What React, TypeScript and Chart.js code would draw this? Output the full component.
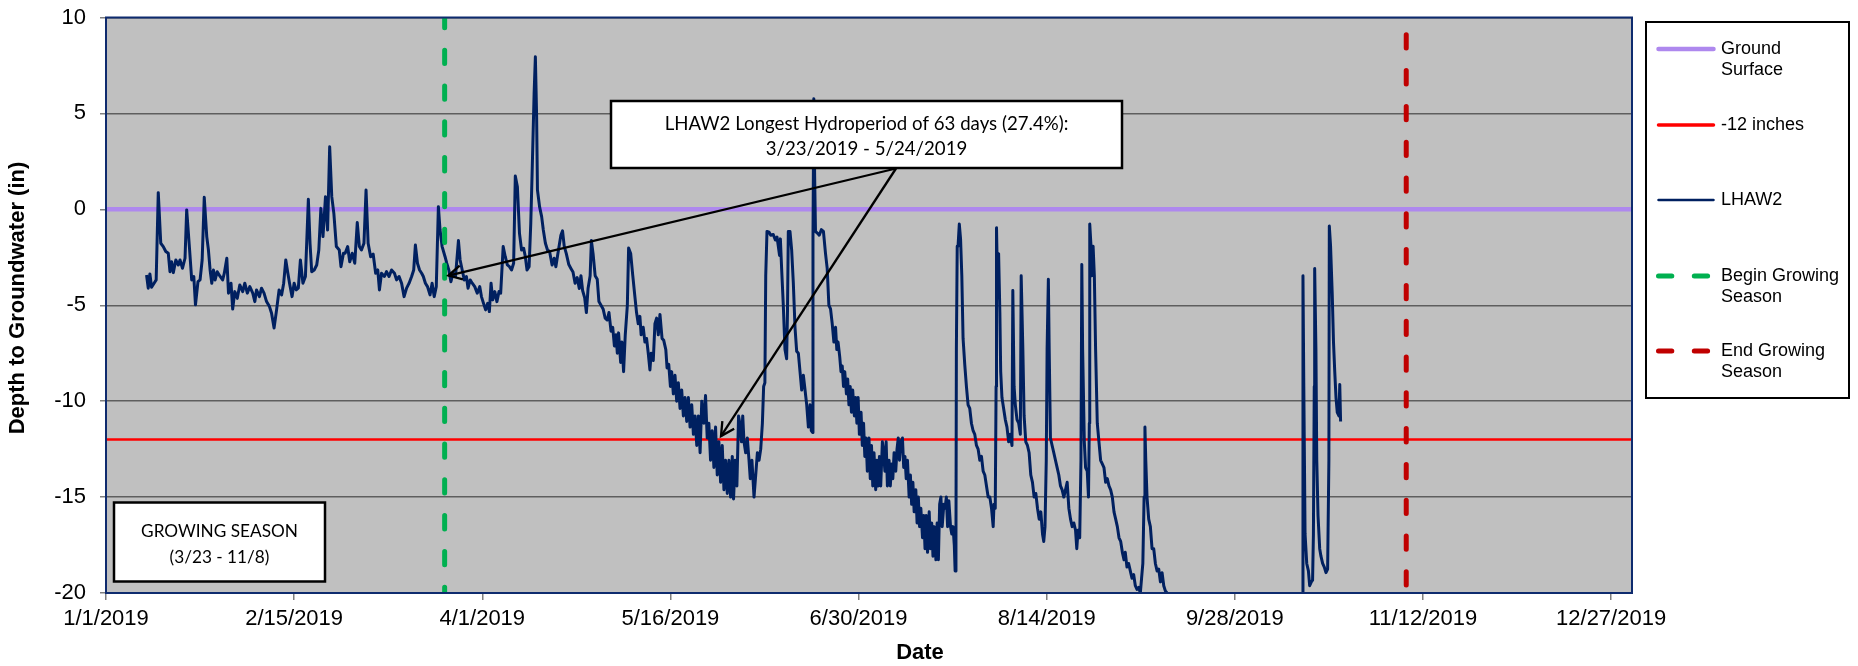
import React, { useEffect, useRef } from 'react';
import { Chart, registerables } from 'chart.js';

Chart.register(...registerables);

// ---------- DATA ----------
// x values are days since 1/1/2019, y values are depth to groundwater (in)
const xTickDays = [0, 45, 90, 135, 180, 225, 270, 315, 360];
const xTickLabels = ['1/1/2019', '2/15/2019', '4/1/2019', '5/16/2019', '6/30/2019', '8/14/2019', '9/28/2019', '11/12/2019', '12/27/2019'];
const yTickValues = [10, 5, 0, -5, -10, -15, -20];

const groundSurfaceDays = [0, 365];
const groundSurfaceDepth = [0, 0];
const minus12Days = [0, 365];
const minus12Depth = [-12, -12];
const beginGrowingDay = 81; // 3/23/2019
const endGrowingDay = 311; // 11/8/2019
const seasonLineDepth = [10, -20];

// arrow targets of the hydroperiod callout (day, depth)
const arrowTargetDays = [81.9, 147.1];
const arrowTargetDepth = [-3.45, -11.82];

const lhawDays = [
  9.7, 10.1, 10.5, 10.9, 11.5, 12.0, 12.5, 13.1, 13.7, 14.3, 14.9, 15.3, 15.7, 16.1, 16.7, 17.3, 17.7, 18.3, 18.9, 19.3,
  20.0, 20.5, 21.0, 21.4, 22.0, 22.5, 23.0, 23.5, 24.1, 24.5, 24.9, 25.3, 25.7, 26.1, 26.6, 27.3, 27.9, 28.3, 28.9, 29.3,
  29.9, 30.3, 30.8, 31.4, 32.0, 32.7, 33.2, 33.8, 34.4, 35.1, 35.6, 36.0, 36.7, 37.2, 37.8, 38.4, 39.1, 39.6, 40.2, 40.8,
  41.4, 42.0, 42.5, 43.0, 43.5, 43.9, 44.5, 45.0, 45.5, 46.0, 46.5, 47.1, 47.7, 48.4, 48.8, 49.2, 49.8, 50.4, 50.9, 51.4,
  51.9, 52.5, 53.0, 53.5, 54.0, 54.5, 55.1, 55.8, 56.2, 56.8,
  57.2, 57.8, 58.3, 58.9, 59.5, 60.1, 60.6, 61.1, 61.7, 62.2, 62.7, 63.3, 63.9, 64.5, 65.0, 65.4, 65.9, 66.6, 67.1, 67.7,
  68.3, 69.0, 69.5, 70.1, 70.7, 71.3, 71.9, 72.5, 73.1, 73.6, 74.0, 74.5, 75.0, 75.5, 75.9, 76.4, 76.9, 77.5, 78.0, 78.5,
  79.0, 79.5, 79.9, 80.4, 81.1, 81.5, 82.0, 82.5, 83.0, 83.6, 84.3, 84.7, 85.2, 85.7, 86.2, 86.6, 87.1, 87.6, 88.2, 88.8,
  89.4, 89.8, 90.3, 90.8, 91.3, 91.7, 92.1, 92.5, 93.0, 93.5, 94.0, 94.4, 95.0, 95.5, 96.0, 96.5, 97.0, 97.5, 97.9, 98.4,
  98.9, 99.4, 99.9, 100.3, 100.7, 101.2, 101.6, 101.9, 102.4, 102.7, 103.0, 103.2, 103.7, 104.2, 104.6, 105.1, 105.6, 106.1, 106.7, 107.2,
  107.6, 108.1,
  108.8, 109.2, 109.6, 110.1, 110.7, 111.2, 111.7, 112.2, 112.7, 113.2, 113.6, 114.0, 114.5, 114.9, 115.3, 115.8, 116.1, 116.5, 117.0, 117.5,
  117.9, 118.4, 118.9, 119.4, 119.9, 120.3, 120.8, 121.2, 121.6, 122.0, 122.3, 122.6, 123.1, 123.4, 123.8, 124.2, 124.7, 125.0, 125.5, 126.0,
  126.4, 126.9, 127.3, 127.7, 128.0, 128.5, 128.9, 129.3, 129.7, 130.1, 130.4, 130.9, 131.3, 131.7, 132.1, 132.5, 133.0, 133.4, 133.9, 134.2,
  134.6, 135.0, 135.3, 135.7, 136.1, 136.5, 136.9, 137.3, 137.7, 138.1, 138.5, 138.9, 139.3, 139.7, 140.1, 140.5, 140.9, 141.3, 141.7, 142.1,
  142.5, 143.0, 143.4, 143.8, 144.2, 144.6, 145.0, 145.4, 145.8, 146.2, 146.6, 147.0, 147.4, 147.8, 148.2, 148.6, 149.0, 149.4, 149.8, 150.1,
  150.5, 150.9, 151.3, 151.6, 152.0, 152.3, 152.6, 153.0, 153.4, 153.8, 154.1, 154.5, 155.0, 155.4, 155.8, 156.2, 156.6, 157.0, 157.3, 157.6,
  157.8, 158.1, 158.6, 159.0, 159.6, 160.1, 160.5, 160.8, 161.1, 161.3, 161.6, 162.0, 162.4, 162.8, 163.0, 163.2, 163.6, 164.0, 164.4, 164.8,
  165.2, 165.6, 166.0, 166.4, 166.8, 167.2, 167.6, 168.0, 168.4, 168.7, 169.0, 169.1, 169.3, 169.5, 169.7, 170.2, 170.6, 171.1, 171.6, 172.1,
  172.5, 172.9, 173.3, 173.7, 174.1, 174.5, 174.8, 175.1, 175.5, 175.8, 176.1, 176.4, 176.7, 177.1, 177.4, 177.7, 178.0, 178.3, 178.6, 179.0,
  179.3, 179.6, 179.9, 180.2, 180.6, 180.9, 181.2, 181.5, 181.8, 182.1, 182.5, 182.8, 183.1, 183.4, 183.7, 184.1, 184.4, 184.7, 185.0, 185.3,
  185.7, 186.0, 186.3, 186.6, 186.9, 187.3, 187.6, 187.9, 188.2, 188.5, 188.9, 189.2, 189.5, 189.8, 190.1, 190.5, 190.8, 191.1, 191.4, 191.7,
  192.1, 192.4, 192.7, 193.0, 193.3, 193.7, 194.0, 194.3, 194.6, 194.9, 195.3, 195.6, 195.9, 196.2, 196.5, 196.9, 197.2, 197.5, 197.8, 198.1,
  198.5, 198.8, 199.1, 199.4, 199.7, 200.0, 200.4, 200.7, 201.0, 201.3, 201.6, 202.0, 202.3, 202.6, 202.9, 203.1, 203.3, 203.4, 203.6, 203.8,
  204.1, 204.4, 204.7, 205.0, 205.4, 205.8, 206.2, 206.6, 207.0, 207.4, 207.8, 208.2, 208.6, 209.0, 209.4, 209.8, 210.2, 210.6, 211.0,
  211.4, 211.8, 212.2, 212.4, 212.7, 212.9, 213.0, 213.3, 213.5, 213.8, 214.0, 214.3, 214.7, 215.1, 215.5, 215.9, 216.3, 216.7, 216.9, 217.2,
  217.5, 217.9, 218.3, 218.7, 218.9, 219.3, 219.6, 220.0, 220.4, 220.8, 221.2, 221.6, 222.0, 222.4, 222.8, 223.2, 223.6, 224.0, 224.3, 224.6,
  224.9, 225.1, 225.4, 225.6, 225.9, 226.3, 226.7, 227.1, 227.5, 227.9, 228.3, 228.7, 229.1, 229.5, 229.9, 230.3, 230.7, 231.1, 231.5, 231.9,
  232.2, 232.5, 232.9, 233.2, 233.4, 233.6, 234.0, 234.3, 234.7, 235.0, 235.2, 235.3, 235.6, 235.8, 236.1, 236.4, 236.7, 237.1, 237.5, 237.9,
  238.3, 238.7, 239.1, 239.5, 239.9, 240.3, 240.7, 241.1, 241.5, 241.9, 242.3, 242.7, 243.1, 243.5, 243.8, 244.2, 244.6, 245.0, 245.4, 245.8,
  246.2, 246.6, 247.0, 247.4, 247.7, 248.0, 248.3, 248.5, 248.7, 249.0, 249.4, 249.8, 250.2, 250.6, 251.0, 251.4, 251.8, 252.2, 252.6, 253.0,
  253.4, 253.8, 270.0,
  286.1, 286.3, 286.5, 286.8, 287.2, 287.6, 287.9, 288.3, 288.6, 288.8, 289.0, 289.1, 289.4, 289.6, 289.9, 290.3, 290.6, 291.0, 291.4, 291.8,
  292.2, 292.5, 292.6, 292.9, 293.3, 293.6, 293.9, 294.2, 294.5, 294.9, 295.1, 295.3
];

const lhawDepth = [
  -3.42, -4.11, -3.37, -4.06, -3.85, -3.68, 0.87, -1.77, -1.94, -2.2, -2.29, -3.25, -2.73, -3.3, -2.64, -2.9, -2.64, -3.07, -2.55, -0.03,
  -2.12, -3.68, -3.5, -4.98, -3.77, -3.68, -2.64, 0.63, -1.42, -2.12, -3.16, -3.85, -3.16, -3.68, -3.25, -3.5, -3.68, -3.33, -2.55, -4.37,
  -3.85, -5.2, -4.29, -4.64, -3.94, -4.29, -3.85, -4.37, -4.03, -4.37, -4.81, -4.2, -4.55, -4.11, -4.37, -4.81, -5.07, -5.42, -6.19, -5.24,
  -4.2, -4.46, -3.85, -2.64, -3.33, -3.85, -4.55, -3.85, -4.2, -4.11, -2.64, -3.85, -3.5, 0.52, -1.77, -3.25, -3.16, -2.9, -2.12, 0.05,
  -1.42, 0.66, -1.08, 3.26, 0.66, -0.21, -1.94, -2.12, -2.99, -2.29,
  -2.29, -1.94, -2.73, -2.29, -2.81, -0.69, -1.94, -2.12, -1.77, 1.01, -1.77, -2.47, -2.33, -3.33, -3.16, -4.2, -3.33, -3.5, -3.25, -3.5,
  -3.16, -3.33, -3.68, -3.5, -3.85, -4.55, -4.11, -3.85, -3.5, -3.16, -1.86, -2.81, -3.16, -3.33, -3.5, -3.85, -4.03, -4.46, -3.85, -4.55,
  -4.03, 0.14, -1.08, -1.94, -2.47, -2.81, -3.16, -3.77, -3.33, -3.5, -1.63, -2.64, -3.16, -3.68, -3.5, -4.11, -3.68, -3.85, -4.03, -4.37,
  -4.03, -4.55, -4.9, -5.24, -4.9, -5.33, -3.85, -4.72, -4.29, -4.81, -4.29, -4.37, -1.94, -2.47, -2.9, -2.99, -3.16, -2.81, 1.74, 1.18,
  -1.25, -2.12, -2.03, -2.47, -3.16, -2.99, -0.73, 1.7, 6.04, 7.95, 4.83, 1.01, 0.14, -0.38, -1.08, -1.77, -2.12, -2.2, -2.9, -2.55,
  -2.99, -2.29,
  -1.35, -1.12, -1.92, -2.31, -2.88, -3.08, -3.27, -3.85, -3.56, -4.13, -3.46, -4.23, -4.62, -5.38, -4.13, -3.46, -1.63, -2.31, -3.46, -3.65,
  -4.81, -5.0, -5.19, -5.67, -5.77, -5.38, -6.35, -6.15, -7.12, -6.54, -7.5, -6.44, -7.98, -6.92, -8.46, -6.54, -5.0, -2.02, -2.31, -3.46,
  -4.33, -5.38, -5.96, -5.58, -6.54, -6.15, -6.92, -6.73, -7.5, -8.37, -7.5, -7.88, -5.96, -5.67, -6.54, -5.48, -6.73, -6.83, -7.31, -8.27,
  -8.08, -9.23, -8.46, -9.62, -8.65, -10.0, -9.04, -10.38, -9.42, -10.77, -9.81, -11.06, -9.81, -11.35, -10.19, -11.73, -10.77, -12.31, -10.77, -12.69,
  -10.0, -11.15, -9.71, -11.92, -11.15, -13.08, -11.54, -13.46, -11.35, -13.85, -12.12, -14.23, -12.31, -14.62, -13.08, -14.81, -13.08, -15.0, -12.88, -15.1,
  -13.08, -14.42, -10.77, -11.15, -12.12, -10.77, -12.12, -12.69, -11.92, -13.08, -14.04, -13.08, -15.0, -13.85, -12.69, -13.08, -12.5, -11.15, -9.23, -9.04,
  -3.46, -1.15, -1.19, -1.35, -1.31, -1.6, -1.44, -1.92, -2.4, -1.54, -3.08, -5.0, -7.31, -7.79, -5.38, -1.15, -1.15, -2.12, -3.85, -6.15,
  -7.4, -7.5, -8.46, -9.42, -8.65, -9.42, -10.19, -11.35, -10.19, -11.54, -11.63, -1.54, 5.77, 1.73, -1.15, -1.25, -1.35, -1.06, -1.15, -2.31,
  -3.08, -5.0, -5.19, -5.96, -6.92, -6.15, -7.31, -6.92, -7.69, -8.46, -8.17, -9.23, -8.46, -9.62, -8.85, -10.19, -9.23, -10.58, -9.42, -10.77,
  -9.81, -11.15, -9.81, -11.73, -10.58, -12.31, -11.15, -12.88, -11.92, -13.65, -11.92, -14.04, -12.31, -14.42, -12.69, -14.62, -13.08, -14.42, -12.88, -14.42,
  -12.12, -12.69, -13.65, -12.12, -14.42, -13.08, -14.42, -13.27, -14.04, -12.69, -13.65, -12.5, -11.92, -13.08, -12.12, -11.92, -13.46, -12.88, -14.04, -13.08,
  -15.0, -13.85, -15.38, -14.23, -15.77, -14.62, -16.35, -15.0, -16.54, -15.58, -17.12, -15.96, -17.69, -15.96, -17.88, -15.77, -17.69, -16.35, -18.08, -16.54,
  -18.27, -16.35, -18.27, -15.38, -15.0, -16.54, -15.38, -15.58, -15.0, -16.54, -15.19, -16.54, -16.92, -16.54, -17.5, -18.85, -17.31, -7.31, -1.92, -1.92,
  -0.77, -1.54, -3.46, -6.73, -8.08, -9.23, -10.19, -10.38, -11.15, -11.54, -11.73, -12.31, -12.5, -13.08, -12.88, -13.65, -13.85, -14.42, -15.0,
  -15.0, -15.58, -16.54, -15.38, -15.58, -9.23, -0.96, -4.62, -2.31, -5.38, -8.46, -9.81, -10.38, -10.96, -11.35, -12.12, -11.73, -12.31, -4.23, -9.23,
  -10.19, -10.96, -11.15, -11.73, -3.46, -7.31, -10.77, -12.12, -12.31, -12.69, -13.85, -14.23, -15.0, -14.81, -15.58, -16.15, -15.77, -16.92, -17.31, -16.54,
  -13.08, -7.31, -3.65, -7.31, -11.92, -12.31, -12.69, -13.08, -13.46, -13.85, -14.42, -14.62, -15.0, -14.62, -14.23, -15.58, -16.15, -16.54, -16.35, -16.73,
  -17.69, -16.73, -17.12, -13.08, -2.88, -7.31, -12.12, -13.46, -13.65, -15.0, -11.15, -0.77, -1.92, -3.46, -1.92, -3.46, -7.31, -11.15, -12.12, -13.08,
  -13.27, -13.46, -14.23, -14.04, -14.42, -14.62, -15.0, -15.77, -16.15, -16.54, -17.12, -17.31, -17.88, -18.27, -17.88, -18.65, -18.46, -18.85, -19.23, -19.04,
  -19.62, -19.81, -19.71, -20.0, -19.23, -18.46, -15.0, -11.35, -13.08, -15.0, -16.15, -16.54, -17.69, -17.69, -18.46, -18.85, -18.75, -19.42, -18.94, -19.62,
  -19.9, -20.0, null,
  -20.0, -3.46, -9.23, -16.92, -18.46, -18.85, -19.62, -19.42, -19.33, -16.92, -9.23, -3.08, -7.31, -13.08, -15.96, -17.69, -18.08, -18.46, -18.65, -18.94,
  -18.75, -13.08, -0.87, -1.92, -4.42, -6.92, -8.46, -9.81, -10.58, -10.77, -9.13, -11.06
];

// ---------- TEXT ----------
const yAxisTitle = 'Depth to Groundwater (in)';
const xAxisTitle = 'Date';
const calloutLines = ['LHAW2 Longest Hydroperiod of 63 days (27.4%):', '3/23/2019 - 5/24/2019'];
const seasonBoxLines = ['GROWING SEASON', '(3/23 - 11/8)'];

const COLORS = {
  ground: '#AE88EE',
  minus12: '#FF0000',
  lhaw: '#002060',
  begin: '#00B050',
  end: '#C00000',
  plotBg: '#C0C0C0',
  frame: '#0E2B6E',
  grid: '#5E5E5E',
};

const legendEntries = [
  { lines: ['Ground', 'Surface'], color: COLORS.ground, width: 4.5, dashed: false },
  { lines: ['-12 inches'], color: COLORS.minus12, width: 3.5, dashed: false },
  { lines: ['LHAW2'], color: COLORS.lhaw, width: 2.5, dashed: false },
  { lines: ['Begin Growing', 'Season'], color: COLORS.begin, width: 5, dashed: true },
  { lines: ['End Growing', 'Season'], color: COLORS.end, width: 5, dashed: true },
];

const FONT = "'Liberation Sans', Arial, sans-serif";
const CAL = "Lato, 'Open Sans', sans-serif";

function fitSize(ctx: CanvasRenderingContext2D, text: string, family: string, weight: string, target: number) {
  ctx.font = `${weight} 20px ${family}`;
  const w = ctx.measureText(text).width;
  return (20 * target) / w;
}

function drawArrow(ctx: CanvasRenderingContext2D, x1: number, y1: number, x2: number, y2: number) {
  ctx.beginPath();
  ctx.moveTo(x1, y1);
  ctx.lineTo(x2, y2);
  ctx.stroke();
  const ang = Math.atan2(y2 - y1, x2 - x1);
  const L = 15;
  const a = (28 * Math.PI) / 180;
  ctx.beginPath();
  ctx.moveTo(x2 - L * Math.cos(ang - a), y2 - L * Math.sin(ang - a));
  ctx.lineTo(x2, y2);
  ctx.lineTo(x2 - L * Math.cos(ang + a), y2 - L * Math.sin(ang + a));
  ctx.stroke();
}

const decorPlugin = {
  id: 'decor',
  beforeDraw(chart: any) {
    const { ctx, chartArea: a } = chart;
    ctx.save();
    ctx.fillStyle = '#FFFFFF';
    ctx.fillRect(0, 0, chart.width, chart.height);
    ctx.fillStyle = COLORS.plotBg;
    ctx.fillRect(a.left, a.top, a.right - a.left, a.bottom - a.top);
    ctx.restore();
  },
  afterDatasetsDraw(chart: any) {
    const { ctx, chartArea: a, scales } = chart;
    ctx.save();
    // plot frame
    ctx.strokeStyle = COLORS.frame;
    ctx.lineWidth = 2;
    ctx.strokeRect(a.left, a.top, a.right - a.left, a.bottom - a.top);

    // callout box
    const bx = 611, by = 101, bw = 511, bh = 67;
    ctx.fillStyle = '#FFFFFF';
    ctx.fillRect(bx, by, bw, bh);
    ctx.strokeStyle = '#000000';
    ctx.lineWidth = 2.5;
    ctx.strokeRect(bx, by, bw, bh);
    const cs = fitSize(ctx, calloutLines[0], CAL, '400', 404);
    ctx.font = `400 ${cs}px ${CAL}`;
    ctx.fillStyle = '#000000';
    ctx.textAlign = 'center';
    ctx.textBaseline = 'middle';
    ctx.fillText(calloutLines[0], bx + bw / 2, 124);
    ctx.fillText(calloutLines[1], bx + bw / 2, 149);

    // arrows
    ctx.lineWidth = 2.3;
    ctx.strokeStyle = '#000000';
    ctx.lineCap = 'butt';
    const ox = 896, oy = 168.5;
    for (let i = 0; i < arrowTargetDays.length; i++) {
      const tx = scales.x.getPixelForValue(arrowTargetDays[i]);
      const ty = scales.y.getPixelForValue(arrowTargetDepth[i]);
      drawArrow(ctx, ox, oy, tx, ty);
    }

    // growing season box
    const gx = 114, gy = 502.5, gw = 211, gh = 79;
    ctx.fillStyle = '#FFFFFF';
    ctx.fillRect(gx, gy, gw, gh);
    ctx.strokeStyle = '#000000';
    ctx.lineWidth = 2.5;
    ctx.strokeRect(gx, gy, gw, gh);
    const gs = fitSize(ctx, seasonBoxLines[0], CAL, '400', 157);
    ctx.font = `400 ${gs}px ${CAL}`;
    ctx.fillStyle = '#000000';
    ctx.fillText(seasonBoxLines[0], gx + gw / 2, 531.5);
    ctx.fillText(seasonBoxLines[1], gx + gw / 2, 557);
    ctx.restore();
  },
  afterDraw(chart: any) {
    const { ctx } = chart;
    ctx.save();
    // axis titles
    ctx.fillStyle = '#000000';
    ctx.font = `bold 22px ${FONT}`;
    ctx.textAlign = 'center';
    ctx.textBaseline = 'middle';
    ctx.fillText(xAxisTitle, 920, 653);
    ctx.save();
    ctx.translate(18, 298);
    ctx.rotate(-Math.PI / 2);
    ctx.fillText(yAxisTitle, 0, 0);
    ctx.restore();

    // legend
    const lx = 1646, ly = 22, lw = 203, lh = 376;
    ctx.fillStyle = '#FFFFFF';
    ctx.fillRect(lx, ly, lw, lh);
    ctx.strokeStyle = '#000000';
    ctx.lineWidth = 2;
    ctx.strokeRect(lx, ly, lw, lh);
    const rowY = [49, 125, 200, 276, 351];
    ctx.font = `18px ${FONT}`;
    ctx.textAlign = 'left';
    legendEntries.forEach((e, i) => {
      const y = rowY[i];
      ctx.save();
      ctx.strokeStyle = e.color;
      ctx.lineWidth = e.width;
      ctx.lineCap = 'round';
      if (e.dashed) ctx.setLineDash([13.3, 22.5]);
      ctx.beginPath();
      ctx.moveTo(1658.5, y);
      ctx.lineTo(1713.5, y);
      ctx.stroke();
      ctx.restore();
      ctx.fillStyle = '#000000';
      e.lines.forEach((t, k) => ctx.fillText(t, 1721, y + k * 21));
    });
    ctx.restore();
  },
};

export default function App() {
  const ref = useRef<HTMLCanvasElement | null>(null);
  useEffect(() => {
    document.body.style.margin = '0';
    const canvas = ref.current;
    if (!canvas) return;
    const pts = (xs: number[], ys: (number | null)[]) => xs.map((x, i) => ({ x, y: ys[i] }));
    const tickFont = { family: FONT, size: 22 };
    const chart = new Chart(canvas, {
      type: 'line',
      data: {
        datasets: [
          { label: 'Ground Surface', data: pts(groundSurfaceDays, groundSurfaceDepth), borderColor: COLORS.ground, borderWidth: 4.5, pointRadius: 0, order: 3 },
          { label: '-12 inches', data: pts(minus12Days, minus12Depth), borderColor: COLORS.minus12, borderWidth: 2.5, pointRadius: 0, order: 2 },
          { label: 'LHAW2', data: pts(lhawDays, lhawDepth), borderColor: COLORS.lhaw, borderWidth: 3, pointRadius: 0, order: 1, spanGaps: false, borderJoinStyle: 'round' },
          { label: 'Begin Growing Season', data: pts([beginGrowingDay, beginGrowingDay], seasonLineDepth), borderColor: COLORS.begin, borderWidth: 5, borderDash: [13.3, 22.5], borderDashOffset: 3.1, borderCapStyle: 'round', pointRadius: 0, order: 0 },
          { label: 'End Growing Season', data: pts([endGrowingDay, endGrowingDay], seasonLineDepth), borderColor: COLORS.end, borderWidth: 5, borderDash: [13.3, 22.5], borderDashOffset: 18.5, borderCapStyle: 'round', pointRadius: 0, order: 0 },
        ] as any,
      },
      options: {
        animation: false,
        responsive: false,
        devicePixelRatio: 1,
        layout: { padding: { left: 0, top: 17.5, right: 226, bottom: 0 } },
        plugins: { legend: { display: false }, tooltip: { enabled: false }, title: { display: false } },
        elements: { line: { tension: 0 } },
        scales: {
          x: {
            type: 'linear',
            min: 0,
            max: 365,
            afterBuildTicks: (s: any) => { s.ticks = xTickDays.map((v) => ({ value: v })); },
            afterFit: (s: any) => { s.height = 73; s.paddingLeft = 0; s.paddingRight = 0; s.paddingTop = 0; s.paddingBottom = 0; },
            ticks: {
              font: tickFont,
              color: '#000000',
              padding: 6,
              maxRotation: 0,
              autoSkip: false,
              callback: (v: any) => { const i = xTickDays.indexOf(Number(v)); return i >= 0 ? xTickLabels[i] : ''; },
            },
            grid: { display: true, drawOnChartArea: false, drawTicks: true, tickLength: 7, color: '#7F7F7F', lineWidth: 1.5 },
            border: { display: false },
          },
          y: {
            type: 'linear',
            min: -20,
            max: 10,
            afterBuildTicks: (s: any) => { s.ticks = yTickValues.map((v) => ({ value: v })); },
            afterFit: (s: any) => { s.width = 106; s.paddingTop = 0; s.paddingBottom = 0; s.paddingLeft = 0; s.paddingRight = 0; },
            ticks: { font: tickFont, color: '#000000', padding: 14, callback: (v: any) => String(v) },
            grid: { color: COLORS.grid, lineWidth: 1.5, tickLength: 6, tickColor: '#7F7F7F' },
            border: { display: false },
          },
        },
      } as any,
      plugins: [decorPlugin],
    });
    return () => chart.destroy();
  }, []);
  return (
    <div style={{ width: 1858, height: 666 }}>
      <canvas ref={ref} width={1858} height={666} style={{ display: 'block', width: 1858, height: 666 }} />
    </div>
  );
}
